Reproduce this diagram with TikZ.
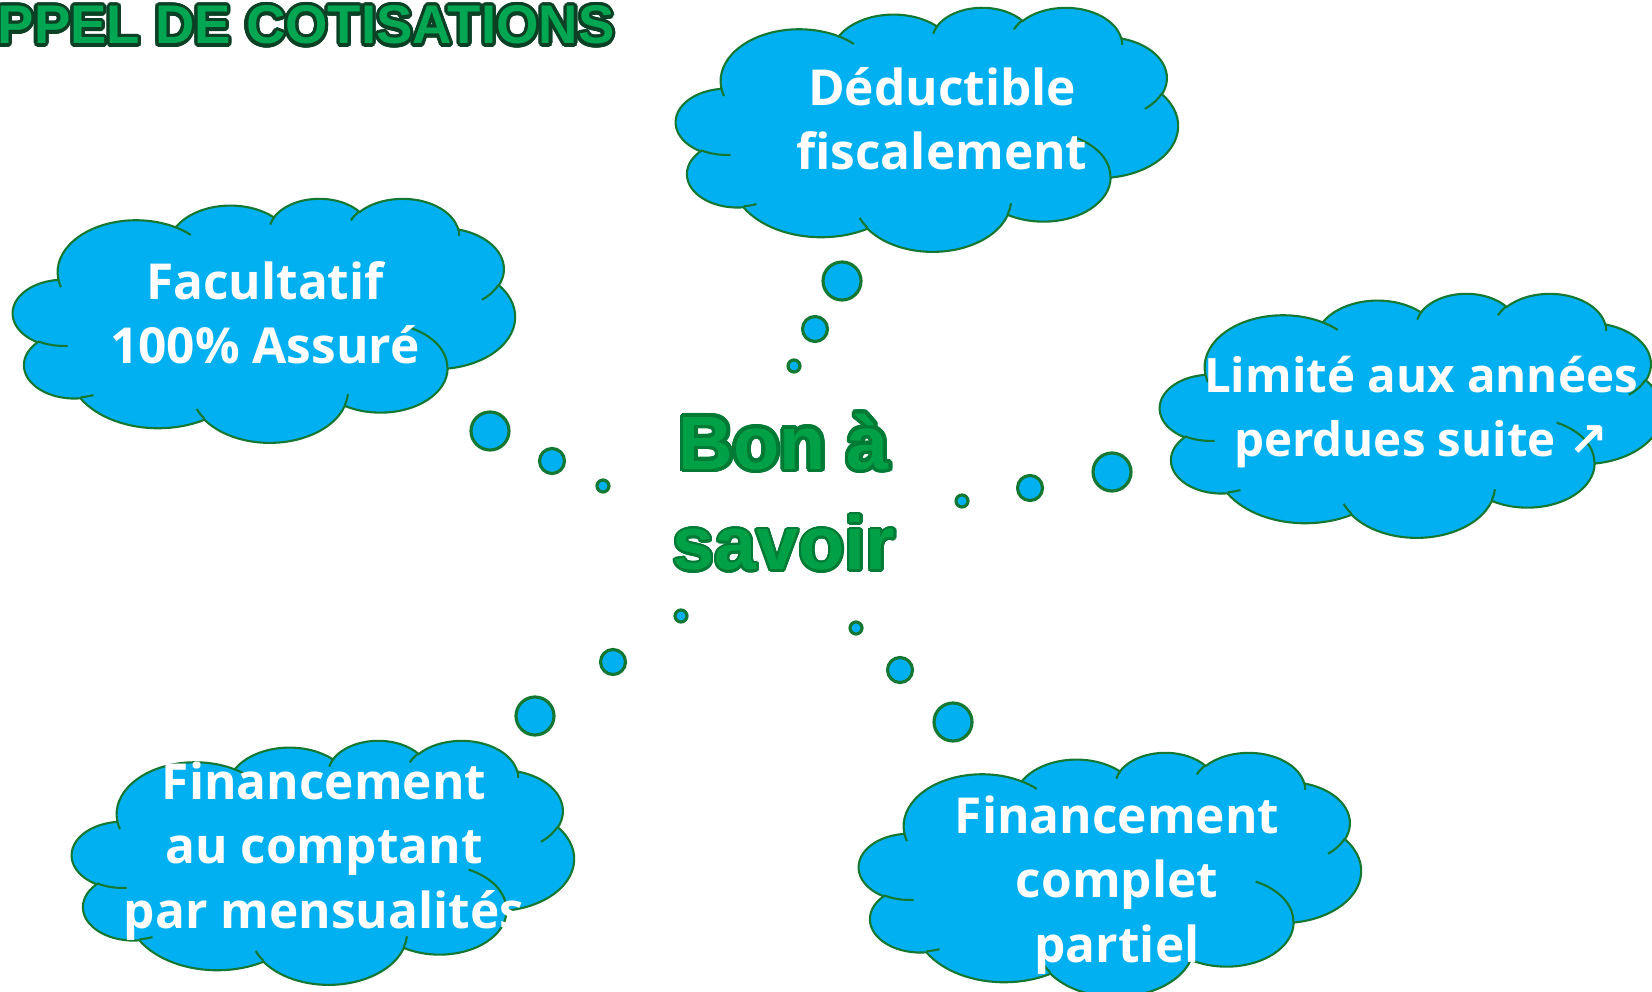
\documentclass[tikz,border=0pt]{standalone}
\usepackage{fontspec}
\usepackage{contour}
\setmainfont{Open Sans}
\newfontfamily\titlefont{Liberation Sans}
\newfontfamily\arrowfont{DejaVu Sans}
\definecolor{CloudBlue}{RGB}{0,176,240}
\definecolor{CloudLine}{RGB}{20,120,50}
\definecolor{TitleGreen}{RGB}{0,166,81}
\definecolor{TitleLine}{RGB}{12,64,36}
\definecolor{BonGreen}{RGB}{0,160,70}
\definecolor{BonLine}{RGB}{0,122,52}
\contournumber{24}

\tikzset{
  cloudfill/.style={fill=CloudBlue, draw=CloudLine, line width=0.6pt},
  cloudarcs/.style={draw=CloudLine, line width=0.6pt},
  oarc/.style n args={4}{insert path={arc[start angle={atan2((#3)*sin(#1),(#4)*cos(#1))},
    delta angle={Mod(atan2((#3)*sin((#1)+(#2)),(#4)*cos((#1)+(#2)))-atan2((#3)*sin(#1),(#4)*cos(#1)),360)},
    x radius=#3, y radius=#4]}},
  bubble/.style={fill=CloudBlue, draw=CloudLine, line width=0.9pt},
  cloudtext/.style={text=white, font=\bfseries\fontsize{14.1}{18.3}\selectfont, align=center, anchor=base, inner sep=0pt},
  bontext/.style={text=BonGreen, font=\titlefont\bfseries\fontsize{21.5}{28.7}\selectfont, align=center, anchor=base, inner sep=0pt},
  titletext/.style={text=TitleGreen, font=\titlefont\bfseries\fontsize{15.5}{18}\selectfont, anchor=base west, inner sep=0pt}
}

\newcommand{\cloudat}[2]{%
  \begin{scope}[shift={(#1,#2)}, xscale=11.62, yscale=5.648]
    \path[cloudfill] (3.900,14.370)
      [oarc={-190.4875}{123.7805}{6.753}{9.190}]
      [oarc={-144.1024}{89.9452}{5.333}{7.267}]
      [oarc={-145.8079}{99.7230}{4.365}{5.945}]
      [oarc={-130.9861}{117.2417}{4.857}{6.595}]
      [oarc={-78.7089}{109.0269}{5.333}{7.273}]
      [oarc={-46.2673}{130.2690}{6.775}{9.220}]
      [oarc={0.6250}{114.0333}{5.785}{7.867}]
      [oarc={22.4516}{115.1726}{6.752}{9.215}]
      [oarc={66.2426}{75.7110}{7.720}{10.543}]
      [oarc={-274.9421}{146.7356}{4.360}{5.918}]
      [oarc={-246.8285}{152.5189}{4.345}{5.945}] -- cycle;
    \path[cloudarcs]
      (4.693,26.177) [oarc={86.7420}{26.4295}{4.345}{5.945}]
      (6.928,34.899) [oarc={73.6105}{11.4475}{4.360}{5.918}]
      (16.478,39.090) [oarc={137.6242}{14.0811}{6.752}{9.215}]
      (28.827,34.751) [oarc={6.4533}{15.9984}{6.752}{9.215}]
      (34.129,22.954) [oarc={-70.2924}{70.9174}{5.785}{7.867}]
      (41.798,15.354) [oarc={30.3180}{27.7515}{5.333}{7.273}]
      (38.324,5.426) [oarc={-13.7443}{14.8512}{4.857}{6.595}]
      (29.078,3.952) [oarc={-149.1815}{18.1954}{4.857}{6.595}]
      (22.141,4.720) [oarc={-163.4943}{17.6864}{4.365}{5.945}]
      (14.000,5.192) [oarc={-66.7070}{12.3194}{6.753}{9.190}]
      (4.127,15.789) [oarc={157.6544}{11.8582}{6.753}{9.190}];
  \end{scope}}

\begin{document}
\begin{tikzpicture}[x=0.01cm, y=-0.01cm]
  \useasboundingbox (0,0) rectangle (1652,992);
  \clip (0,0) rectangle (1652,992);

  \node[titletext] (titre) at (-3,44) {\contourlength{0.9pt}\contour{TitleLine}{PPEL DE COTISATIONS}};

  \cloudat{676}{7}
  \cloudat{13}{198}
  \cloudat{1160}{293}
  \cloudat{72}{740}
  \cloudat{859}{752}

  \foreach \x/\y/\r in {842/281/19, 815/329/12.5, 794/366/6,
                        490/431/19, 552/461/12.5, 603/486/6,
                        1112/472/19, 1030/488/12.5, 962/501/6,
                        535/716/19, 613/662/12.5, 681/616/6,
                        953/722/19, 900/670/12.5, 856/628/6}
    \path[bubble] (\x,\y) circle[radius=\r];

  \node[cloudtext] (deduct) at (942,170) {Déductible\\fiscalement};
  \node[cloudtext] (facult) at (265,364) {Facultatif\\100\% Assuré};
  \node[cloudtext, font=\bfseries\fontsize{13.5}{18.3}\selectfont] (limite) at (1421,457) {Limité aux années\\perdues suite {\arrowfont ↗}};
  \node[cloudtext] (comptant) at (324,928) {Financement\\au comptant\\par mensualités};
  \node[cloudtext] (complet) at (1117,962) {Financement\\complet\\partiel};

  \node[bontext] (bon) at (784,570) {\contourlength{1.1pt}\contour{BonLine}{Bon à}\\\contour{BonLine}{savoir}};
\end{tikzpicture}
\end{document}
